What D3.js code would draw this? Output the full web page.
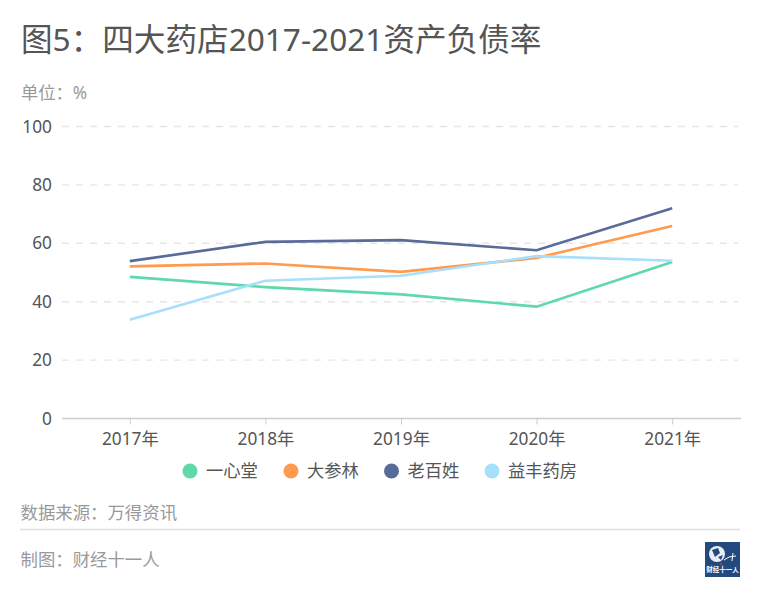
<!DOCTYPE html>
<html>
<head>
<meta charset="utf-8">
<script src="https://cdn.jsdelivr.net/npm/d3@7"></script>
<style>
  html, body { margin: 0; padding: 0; background: #fff; }
  svg { display: block; }
  text { font-family: "Noto Sans", "Noto Sans CJK SC", sans-serif; }
</style>
</head>
<body>
<svg id="chart" width="760" height="595"></svg>
<script>
const years = ["2017年", "2018年", "2019年", "2020年", "2021年"];
const names = ["一心堂", "大参林", "老百姓", "益丰药房"];
const colors = ["#5fd9ab", "#ff9a4f", "#596b98", "#a8dffc"];
const yTicks = [0, 20, 40, 60, 80, 100];

const yixintang = [48.5, 45.0, 42.5, 38.3, 53.6];
const dashenlin = [52.1, 53.1, 50.2, 55.0, 65.9];
const laobaixing = [53.9, 60.5, 61.1, 57.6, 72.0];
const yifeng = [33.8, 47.2, 48.9, 55.6, 54.0];
const seriesValues = [yixintang, dashenlin, laobaixing, yifeng];

const svg = d3.select("#chart");
const plotLeft = 62, plotRight = 740, plotTop = 126.5, plotBottom = 418.5;

const x = d3.scalePoint().domain(years).range([plotLeft, plotRight]).padding(0.5);
const y = d3.scaleLinear().domain([0, 100]).range([plotBottom, plotTop]);

// title and unit
svg.append("text").attr("x", 21).attr("y", 51)
    .attr("font-size", 31.6).attr("fill", "#555")
    .text("图5：四大药店2017-2021资产负债率");
svg.append("text").attr("x", 21).attr("y", 98.5)
    .attr("font-size", 17.3).attr("fill", "#999")
    .text("单位：%");

// grid
svg.append("g").selectAll("line")
    .data(yTicks.filter(d => d > 0))
    .join("line")
    .attr("x1", plotLeft).attr("x2", 738)
    .attr("y1", d => y(d)).attr("y2", d => y(d))
    .attr("stroke", "#e6e6e6")
    .attr("stroke-width", 1.4)
    .attr("stroke-dasharray", "7 7");

// y axis
const yAxis = svg.append("g")
    .attr("transform", `translate(${plotLeft},0)`)
    .call(d3.axisLeft(y).tickValues(yTicks).tickSize(0).tickPadding(10));
yAxis.select(".domain").remove();
yAxis.selectAll("text")
    .attr("font-size", 17.3).attr("fill", "#555")
    .style("font-family", '"Noto Sans", "Noto Sans CJK SC", sans-serif');

// x axis
const xAxis = svg.append("g")
    .attr("transform", `translate(0,${plotBottom})`)
    .call(d3.axisBottom(x).tickSize(6).tickSizeOuter(0).tickPadding(8));
xAxis.select(".domain").attr("stroke", "#ccc").attr("stroke-width", 1.5)
    .attr("d", `M${plotLeft},0H${plotRight + 1}`);
xAxis.selectAll("line").attr("stroke", "#ccc");
xAxis.selectAll("text")
    .attr("font-size", 17.3).attr("fill", "#555")
    .style("font-family", '"Noto Sans", "Noto Sans CJK SC", sans-serif');

// lines
const line = d3.line().x((d, i) => x(years[i])).y(d => y(d));
svg.append("g").selectAll("path")
    .data(seriesValues)
    .join("path")
    .attr("d", line)
    .attr("fill", "none")
    .attr("stroke", (d, i) => colors[i])
    .attr("stroke-width", 2.6);

// legend
const legendX = [190, 291, 391.5, 492];
const legend = svg.append("g").selectAll("g")
    .data(names)
    .join("g")
    .attr("transform", (d, i) => `translate(${legendX[i]},471)`);
legend.append("circle").attr("r", 7.5).attr("fill", (d, i) => colors[i]);
legend.append("text").attr("x", 16).attr("y", 6)
    .attr("font-size", 17.3).attr("fill", "#555")
    .text(d => d);

// footer
svg.append("text").attr("x", 20.5).attr("y", 519)
    .attr("font-size", 17.4).attr("fill", "#999")
    .text("数据来源：万得资讯");
svg.append("line").attr("x1", 20).attr("x2", 740)
    .attr("y1", 529.5).attr("y2", 529.5)
    .attr("stroke", "#ddd").attr("stroke-width", 1.5);
svg.append("text").attr("x", 20.5).attr("y", 566)
    .attr("font-size", 17.4).attr("fill", "#999")
    .text("制图：财经十一人");

// logo
const logo = svg.append("g").attr("transform", "translate(705,542)");
logo.append("rect").attr("width", 35).attr("height", 35).attr("fill", "#23497f");
logo.append("circle").attr("cx", 12).attr("cy", 12).attr("r", 8).attr("fill", "#e8eef5");
logo.append("path").attr("d", "M7,8 L13,6 L15,11 L10,15 Z M13,15 L18,13 L16,18 Z").attr("fill", "#23497f");
logo.append("path").attr("d", "M19,18 L24,15 L31,14 M28,11 L27,19").attr("stroke", "#fff").attr("fill", "none");
logo.append("circle").attr("cx", 16).attr("cy", 22).attr("r", 1).attr("fill", "#d33");
logo.append("text").attr("x", 17.5).attr("y", 30).attr("text-anchor", "middle")
    .attr("font-size", 6.5).attr("font-weight", "bold").attr("fill", "#fff").text("财经十一人");
</script>
</body>
</html>
